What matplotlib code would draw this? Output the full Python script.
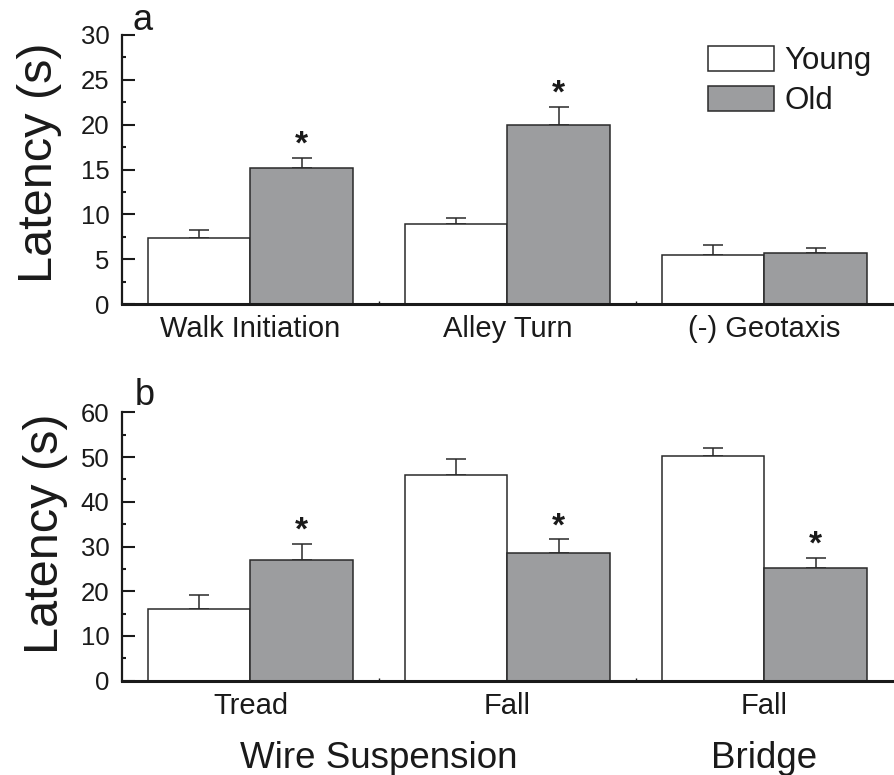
import numpy as np
import matplotlib
matplotlib.use('Agg')
import matplotlib.pyplot as plt
from matplotlib.ticker import MultipleLocator, FixedLocator
from matplotlib.transforms import blended_transform_factory

plt.rcParams['font.family'] = ['Liberation Sans', 'DejaVu Sans']

# panel a
cats_a = ['Walk Initiation', 'Alley Turn', '(-) Geotaxis']
young_a = [7.4, 8.9, 5.5]
young_a_err = [0.9, 0.7, 1.1]
old_a = [15.2, 20.0, 5.7]
old_a_err = [1.1, 2.0, 0.6]
sig_a = [True, True, False]

# panel b
cats_b = ['Tread', 'Fall', 'Fall']
young_b = [16.0, 46.0, 50.2]
young_b_err = [3.1, 3.5, 1.8]
old_b = [27.0, 28.5, 25.2]
old_b_err = [3.6, 3.1, 2.2]
sig_b = [True, True, True]

groups_b = ['Wire Suspension', 'Bridge']
groups_b_pos = [0.5, 2.0]

GRAY = '#9c9d9f'
EDGE = '#2a2a2a'
TXT = '#1a1a1a'
W = 0.4

fig = plt.figure(figsize=(8.95, 7.75), dpi=100)
ax1 = fig.add_axes([122/895, 1-304/775, 771/895, 269/775])
ax2 = fig.add_axes([122/895, 1-680.7/775, 771/895, 268.4/775])


def draw(ax, cats, young, yerr, old, oerr, sig, ymax, step):
    x = np.arange(len(cats))
    ek = dict(ecolor=EDGE, elinewidth=1.1, capsize=7.5, capthick=1.1)
    b1 = ax.bar(x - W/2, young, W, color='white', edgecolor=EDGE, linewidth=1.1,
                label='Young', zorder=2)
    ax.errorbar(x - W/2, young, yerr=[np.zeros(len(x)), yerr], fmt='none', zorder=1, **ek)
    b2 = ax.bar(x + W/2, old, W, color=GRAY, edgecolor=EDGE, linewidth=1.1,
                label='Old', zorder=2)
    ax.errorbar(x + W/2, old, yerr=[np.zeros(len(x)), oerr], fmt='none', zorder=1, **ek)
    for xi, v, e, s in zip(x, old, oerr, sig):
        if s:
            ax.annotate('*', (xi + W/2, v + e), xytext=(0, 3), textcoords='offset points',
                        ha='center', va='baseline', fontsize=24, fontweight='bold',
                        color=TXT)
    ax.set_xlim(-0.5, len(cats) - 0.5)
    ax.set_ylim(0, ymax)
    ax.set_xticks(x)
    ax.set_xticklabels(cats, fontsize=21, color=TXT)
    ax.xaxis.set_minor_locator(FixedLocator([0.5, 1.5]))
    ax.yaxis.set_major_locator(MultipleLocator(step))
    ax.yaxis.set_minor_locator(MultipleLocator(step / 2))
    ax.tick_params(axis='y', which='major', direction='in', length=9.5, width=1.5,
                   labelsize=18.5, pad=9, colors=TXT)
    ax.tick_params(axis='y', which='minor', direction='in', length=3, width=1.5, colors=TXT)
    ax.tick_params(axis='x', which='major', length=0, pad=8)
    ax.tick_params(axis='x', which='minor', direction='in', length=2, width=1, colors=TXT)
    for sp in ['top', 'right']:
        ax.spines[sp].set_visible(False)
    ax.spines['left'].set_linewidth(1.6)
    ax.spines['bottom'].set_linewidth(2.2)
    ax.spines['left'].set_color(TXT)
    ax.spines['bottom'].set_color(TXT)
    ax.set_ylabel('Latency (s)', fontsize=35, color=TXT)
    return b1, b2


b1, b2 = draw(ax1, cats_a, young_a, young_a_err, old_a, old_a_err, sig_a, 30, 5)
draw(ax2, cats_b, young_b, young_b_err, old_b, old_b_err, sig_b, 60, 10)

ax1.yaxis.set_label_coords(-0.078, 0.524)
ax2.yaxis.set_label_coords(-0.070, 0.547)

ax1.legend([b1, b2], ['Young', 'Old'], frameon=False, fontsize=22.5,
           handlelength=2.1, handleheight=0.85, handletextpad=0.35,
           labelspacing=0.3, borderpad=0, borderaxespad=0,
           loc='upper left', bbox_to_anchor=(708/895, 1-46/775),
           bbox_transform=fig.transFigure, labelcolor=TXT)

fig.text(133/895, 1-30/775, 'a', fontsize=26, color=TXT, ha='left', va='baseline')
fig.text(135/895, 1-405/775, 'b', fontsize=26, color=TXT, ha='left', va='baseline')

tr = blended_transform_factory(ax2.transData, fig.transFigure)
for g, gx in zip(groups_b, groups_b_pos):
    ax2.text(gx, 1-768/775, g, transform=tr, fontsize=26.5, color=TXT,
             ha='center', va='baseline')

fig.savefig('out.png', dpi=100)
